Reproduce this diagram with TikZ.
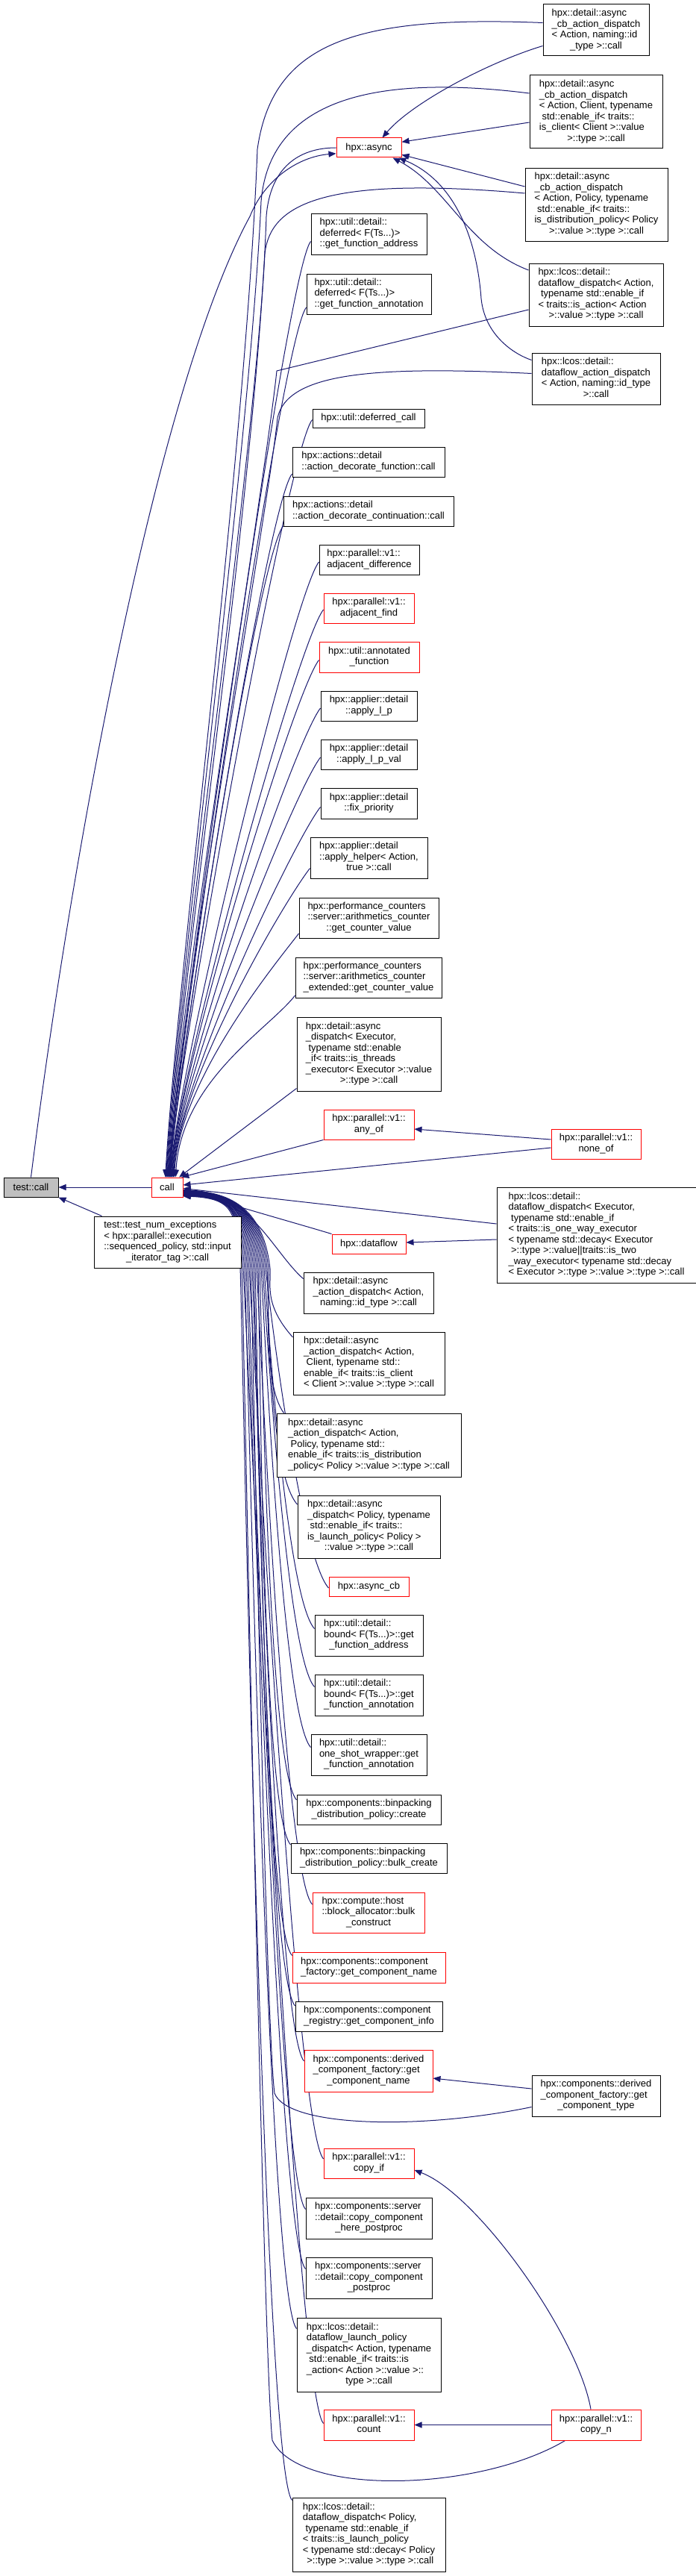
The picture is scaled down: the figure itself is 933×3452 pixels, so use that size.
\documentclass[tikz,border=0pt]{standalone}
\usepackage{fontspec}
\setmainfont{Liberation Sans}
\usetikzlibrary{arrows.meta,calc}
\pgfdeclarelayer{bg}
\pgfsetlayers{bg,main}
\definecolor{edgeblue}{RGB}{25,25,112}
\definecolor{nodered}{RGB}{255,0,0}
\definecolor{rootgray}{RGB}{191,191,191}
\newcommand{\lb}[2]{\begin{tabular}{@{}l@{}}#1\\\multicolumn{1}{@{}c@{}}{#2}\end{tabular}}
\newcommand{\upedge}[3]{\draw[conn] (call.#1) .. controls +(8,-130) and +(-35,45) .. ($(#2.west)+(0,#3)$);}
\newcommand{\lowedge}[4]{\draw[conn] (call.#1) .. controls +(75,3) and (#4-8,1630) .. (#4,1700) .. controls (#4+2,1720) and +(-40,-45) .. ($(#2.west)+(0,#3)$);}
\tikzset{
 nbox/.style={draw=black, line width=1pt, fill=white, inner sep=0pt, align=center, font=\fontsize{13}{14.5}\selectfont},
 rbox/.style={nbox, draw=nodered},
 sz/.style 2 args={minimum width=#1, minimum height=#2},
 conn/.style={draw=edgeblue, line width=1pt, {Triangle[length=10pt,width=8pt]}-}
}
\begin{document}
\begin{tikzpicture}[x=1pt,y=-1pt]
\begin{pgfonlayer}{bg}
\fill[white] (0,0) rectangle (933,3452);
\end{pgfonlayer}
\useasboundingbox (0,0) rectangle (933,3452);

% right column, top
\node[nbox, sz={142}{69}] (cbid) at (799,40.5) {\lb{hpx::detail::async\\\_cb\_action\_dispatch\\< Action, naming::id}{\_type >::call}};
\node[nbox, sz={178}{98}] (cbclient) at (799,150) {\lb{hpx::detail::async\\\_cb\_action\_dispatch\\< Action, Client, typename\\~std::enable\_if< traits::\\is\_client< Client >::value}{>::type >::call}};
\node[nbox, sz={191}{98}] (cbpolicy) at (799.5,274) {\lb{hpx::detail::async\\\_cb\_action\_dispatch\\< Action, Policy, typename\\~std::enable\_if< traits::\\is\_distribution\_policy< Policy}{>::value >::type >::call}};
\node[nbox, sz={180}{84}] (lcosdf) at (799,395) {\lb{hpx::lcos::detail::\\dataflow\_dispatch< Action,\\~typename std::enable\_if\\< traits::is\_action< Action}{>::value >::type >::call}};
\node[nbox, sz={172}{69}] (lcosdfa) at (799,507.5) {\lb{hpx::lcos::detail::\\dataflow\_action\_dispatch\\< Action, naming::id\_type}{>::call}};

% middle column
\node[rbox, sz={87}{26}] (async) at (494.5,198) {hpx::async};
\node[nbox, sz={155}{55}] (defaddr) at (494.5,313.5) {\lb{hpx::util::detail::\\deferred< F(Ts...)>}{::get\_function\_address}};
\node[nbox, sz={167}{54}] (defannot) at (494.5,394) {\lb{hpx::util::detail::\\deferred< F(Ts...)>}{::get\_function\_annotation}};
\node[nbox, sz={150}{25}] (defcall) at (494,560.5) {hpx::util::deferred\_call};
\node[nbox, sz={204}{40}] (adfunc) at (494,619) {\lb{hpx::actions::detail}{::action\_decorate\_function::call}};
\node[nbox, sz={228}{40}] (adcont) at (494,685) {\lb{hpx::actions::detail}{::action\_decorate\_continuation::call}};
\node[nbox, sz={134}{40}] (adjdiff) at (495,750) {\lb{hpx::parallel::v1::}{adjacent\_difference}};
\node[rbox, sz={121}{40}] (adjfind) at (494.5,815) {\lb{hpx::parallel::v1::}{adjacent\_find}};
\node[rbox, sz={134}{41}] (annot) at (495,880.5) {\lb{hpx::util::annotated}{\_function}};
\node[nbox, sz={129}{40}] (applp) at (494.5,946) {\lb{hpx::applier::detail}{::apply\_l\_p}};
\node[nbox, sz={129}{40}] (applpv) at (494.5,1011) {\lb{hpx::applier::detail}{::apply\_l\_p\_val}};
\node[nbox, sz={129}{41}] (fixprio) at (494.5,1076.5) {\lb{hpx::applier::detail}{::fix\_priority}};
\node[nbox, sz={157}{55}] (applyhelper) at (494.5,1149.5) {\lb{hpx::applier::detail\\::apply\_helper< Action,}{true >::call}};
\node[nbox, sz={187}{54}] (arith) at (494.5,1230) {\lb{hpx::performance\_counters\\::server::arithmetics\_counter}{::get\_counter\_value}};
\node[nbox, sz={196}{54}] (arithext) at (494,1310) {\lb{hpx::performance\_counters\\::server::arithmetics\_counter}{\_extended::get\_counter\_value}};
\node[nbox, sz={193}{99}] (adexec) at (494.5,1412.5) {\lb{hpx::detail::async\\\_dispatch< Executor,\\~typename std::enable\\\_if< traits::is\_threads\\\_executor< Executor >::value}{>::type >::call}};
\node[rbox, sz={121}{40}] (anyof) at (494.5,1507) {\lb{hpx::parallel::v1::}{any\_of}};
\node[rbox, sz={120}{40}] (noneof) at (799,1533) {\lb{hpx::parallel::v1::}{none\_of}};

% root
\node[rbox, sz={42}{26}] (call) at (224,1591) {call};
\node[nbox, fill=rootgray, sz={73}{26}] (testcall) at (41.5,1591) {test::call};
\node[nbox, sz={197}{69}] (tne) at (224.5,1664.5) {\lb{test::test\_num\_exceptions\\< hpx::parallel::execution\\::sequenced\_policy, std::input}{\_iterator\_tag >::call}};

\node[nbox, sz={267}{128}] (dfexec) at (799.5,1655) {\lb{hpx::lcos::detail::\\dataflow\_dispatch< Executor,\\~typename std::enable\_if\\< traits::is\_one\_way\_executor\\< typename std::decay< Executor\\~>::type >::value||traits::is\_two\\\_way\_executor< typename std::decay}{< Executor >::type >::value >::type >::call}};
\node[rbox, sz={99}{26}] (dataflow) at (494.5,1667) {hpx::dataflow};
\node[nbox, sz={174}{55}] (aadid) at (494,1732.5) {\lb{hpx::detail::async\\\_action\_dispatch< Action,}{naming::id\_type >::call}};
\node[nbox, sz={203}{84}] (aadclient) at (494.5,1827) {\lb{hpx::detail::async\\\_action\_dispatch< Action,\\~Client, typename std::\\enable\_if< traits::is\_client}{< Client >::value >::type >::call}};
\node[nbox, sz={247}{85}] (aadpolicy) at (494.5,1936.5) {\lb{hpx::detail::async\\\_action\_dispatch< Action,\\~Policy, typename std::\\enable\_if< traits::is\_distribution}{\_policy< Policy >::value >::type >::call}};
\node[nbox, sz={191}{84}] (adpolicy) at (494.5,2046) {\lb{hpx::detail::async\\\_dispatch< Policy, typename\\~std::enable\_if< traits::\\is\_launch\_policy< Policy >}{::value >::type >::call}};
\node[rbox, sz={107}{26}] (asynccb) at (494.5,2126) {hpx::async\_cb};
\node[nbox, sz={145}{55}] (bndaddr) at (494.5,2191.5) {\lb{hpx::util::detail::\\bound< F(Ts...)>::get}{\_function\_address}};
\node[nbox, sz={145}{55}] (bndannot) at (494.5,2271.5) {\lb{hpx::util::detail::\\bound< F(Ts...)>::get}{\_function\_annotation}};
\node[nbox, sz={155}{55}] (oneshot) at (494.5,2351.5) {\lb{hpx::util::detail::\\one\_shot\_wrapper::get}{\_function\_annotation}};
\node[nbox, sz={193}{40}] (bincreate) at (494.5,2425) {\lb{hpx::components::binpacking}{\_distribution\_policy::create}};
\node[nbox, sz={209}{40}] (binbulk) at (494.5,2490) {\lb{hpx::components::binpacking}{\_distribution\_policy::bulk\_create}};
\node[rbox, sz={150}{54}] (blockalloc) at (494,2563) {\lb{hpx::compute::host\\::block\_allocator::bulk}{\_construct}};
\node[rbox, sz={205}{41}] (cfname) at (494.5,2636.5) {\lb{hpx::components::component}{\_factory::get\_component\_name}};
\node[nbox, sz={197}{40}] (creg) at (494.5,2702) {\lb{hpx::components::component}{\_registry::get\_component\_info}};
\node[rbox, sz={172}{56}] (dername) at (494,2775) {\lb{hpx::components::derived\\\_component\_factory::get}{\_component\_name}};
\node[nbox, sz={172}{55}] (dertype) at (799,2808.5) {\lb{hpx::components::derived\\\_component\_factory::get}{\_component\_type}};
\node[rbox, sz={121}{40}] (copyif) at (494.5,2899) {\lb{hpx::parallel::v1::}{copy\_if}};
\node[nbox, sz={169}{55}] (cchere) at (494.5,2972.5) {\lb{hpx::components::server\\::detail::copy\_component}{\_here\_postproc}};
\node[nbox, sz={169}{55}] (ccpost) at (494.5,3052.5) {\lb{hpx::components::server\\::detail::copy\_component}{\_postproc}};
\node[nbox, sz={193}{99}] (dflaunch) at (494.5,3155.5) {\lb{hpx::lcos::detail::\\dataflow\_launch\_policy\\\_dispatch< Action, typename\\~std::enable\_if< traits::is\\\_action< Action >::value >::}{type >::call}};
\node[rbox, sz={121}{41}] (count) at (494.5,3249.5) {\lb{hpx::parallel::v1::}{count}};
\node[rbox, sz={120}{41}] (copyn) at (799,3249.5) {\lb{hpx::parallel::v1::}{copy\_n}};
\node[nbox, sz={205}{99}] (dfpolicy) at (494.5,3396.5) {\lb{hpx::lcos::detail::\\dataflow\_dispatch< Policy,\\~typename std::enable\_if\\< traits::is\_launch\_policy\\< typename std::decay< Policy}{~>::type >::value >::type >::call}};

\begin{pgfonlayer}{bg}
% ---- edges around the root
\draw[conn] (testcall.east) -- (call.west);
\draw[conn] (testcall.south east) -- ($(tne.north west)+(11,0)$);

% ---- edges into hpx::async
\draw[conn] (async.190) .. controls (400,210) and (355,240) .. (335,290) .. controls (210,520) and (95,1150) .. (testcall.north);
\draw[conn] ($(async.north)+(18,0)$) .. controls (550,140) and (650,85) .. ($(cbid.west)+(0,21)$);
\draw[conn] (async.10) -- ($(cbclient.west)+(0,14)$);
\draw[conn] (async.-12) -- ($(cbpolicy.west)+(0,-24)$);
\draw[conn] ($(async.south)+(32,0)$) .. controls (600,250) and (625,330) .. ($(lcosdf.west)+(0,-33)$);
\draw[conn] ($(async.south)+(40,0)$) .. controls (615,245) and (640,330) .. (645,400) .. controls (650,450) and (690,475) .. ($(lcosdfa.west)+(0,-25)$);

% ---- long arcs into call from the top
\draw[conn] (call.100) .. controls (238,1300) and (330,600) .. (345,200) .. controls (365,60) and (470,20) .. ($(cbid.west)+(0,-10)$);
\draw[conn] (call.97) .. controls (240,1300) and (335,600) .. (350,270) .. controls (360,150) and (470,95) .. ($(cbclient.west)+(0,-25)$);
\draw[conn] (call.94) .. controls (242,1300) and (340,620) .. (355,340) .. controls (362,275) and (430,235) .. ($(cbpolicy.west)+(0,-15)$);
\draw[conn] (call.91) .. controls (244,1300) and (345,640) .. (357,290) .. controls (362,225) and (400,198) .. (async.west);
\draw[conn] (call.88) .. controls (246,1300) and (355,650) .. (371,497) -- ($(lcosdf.west)+(0,20)$);
\draw[conn] (call.85) .. controls (248,1300) and (360,680) .. (372,560) .. controls (385,500) and (500,490) .. ($(lcosdfa.west)+(0,-7)$);

\upedge{82}{defaddr}{10}
\upedge{80}{defannot}{18}
\upedge{78}{defcall}{2}
\upedge{76}{adfunc}{16}
\upedge{74}{adcont}{20}
\upedge{72}{adjdiff}{3}
\upedge{70}{adjfind}{2}
\upedge{68}{annot}{4}
\upedge{65}{applp}{3}
\upedge{63}{applpv}{4}
\upedge{60}{fixprio}{5}
\upedge{58}{applyhelper}{14}
\upedge{55}{arith}{21}
\upedge{50}{arithext}{24}
\draw[conn] (call.40) -- ($(adexec.south west)+(0,-4)$);

% ---- right side of call
\draw[conn] ($(anyof.east)+(0,6)$) -- ($(noneof.west)+(0,-6)$);
\draw[conn] (call.35) -- (anyof.south west);
\draw[conn] (call.8) -- ($(noneof.west)+(0,5)$);
\draw[conn] (call.-4) -- ($(dfexec.west)+(0,-15)$);
\draw[conn] ($(dataflow.east)+(0,-2)$) -- ($(dfexec.west)+(0,6)$);
\draw[conn] (call.-8) .. controls (310,1615) and (400,1640) .. (dataflow.north west);

% ---- lower bundle
\draw[conn] (call.-10) .. controls +(90,3) and +(-40,-35) .. ($(aadid.west)+(0,-19)$);
\lowedge{-11}{aadclient}{-35}{362}
\draw[conn] (call.-12) .. controls +(75,3) and (352,1630) .. (360,1700) .. controls (362,1720) and +(-30,-40) .. ($(aadpolicy.north west)+(10,0)$);
\lowedge{-13}{adpolicy}{-30}{358}
\lowedge{-14}{asynccb}{2}{356}
\lowedge{-15}{bndaddr}{-9}{354}
\lowedge{-16}{bndannot}{-11}{352}
\lowedge{-17}{oneshot}{-10}{350}
\lowedge{-18}{bincreate}{-13}{348}
\lowedge{-19}{binbulk}{-18}{346}
\lowedge{-20}{blockalloc}{-11}{344}
\lowedge{-21}{cfname}{-16}{342}
\lowedge{-22}{creg}{-14}{340}
\lowedge{-23}{dername}{-13}{338}
\lowedge{-24}{copyif}{-6}{334}
\lowedge{-25}{cchere}{-12}{332}
\lowedge{-26}{ccpost}{-12}{330}
\lowedge{-27}{dflaunch}{-35}{328}
\lowedge{-28}{count}{-2}{326}
\lowedge{-29}{dfpolicy}{-46}{322}

% ---- derived component factory and copy_n
\draw[conn] (call.-20) .. controls +(75,3) and (328,1630) .. (336,1700) .. controls (338,1720) and (355,2700) .. (368,2805) .. controls (385,2850) and (560,2855) .. ($(dertype.west)+(0,15)$);
\draw[conn] ($(dername.east)+(0,10)$) -- ($(dertype.west)+(0,-9.5)$);
\draw[conn] (call.-24) .. controls +(75,3) and (316,1630) .. (324,1700) .. controls (326,1720) and (352,3150) .. (365,3270) .. controls (400,3345) and (640,3340) .. ($(copyn.south west)+(19,0)$);
\draw[conn] (count.east) -- (copyn.west);
\draw[conn] ($(copyif.east)+(0,9)$) .. controls (640,2940) and (775,3130) .. ($(copyn.north)+(-7,0)$);
\end{pgfonlayer}
\end{tikzpicture}
\end{document}
